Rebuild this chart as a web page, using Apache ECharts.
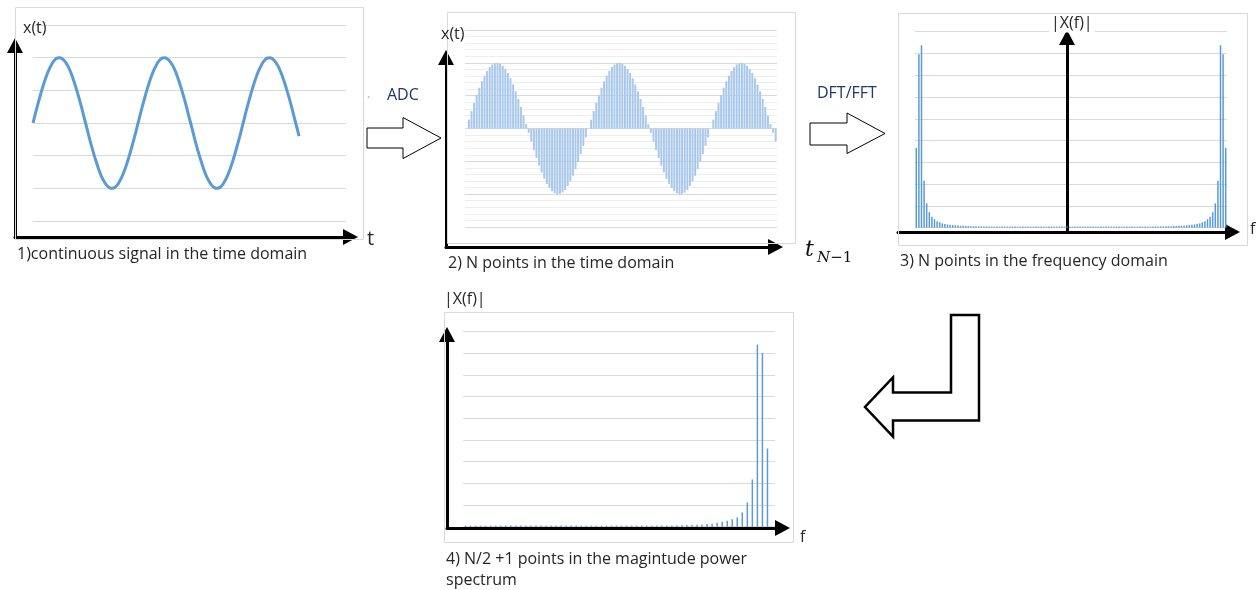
<!DOCTYPE html>
<html><head><meta charset="utf-8">
<script src="https://cdn.jsdelivr.net/npm/echarts@6/dist/echarts.min.js"></script>
<style>html,body{margin:0;padding:0;background:#fff}#c{width:1258px;height:590px}</style>
</head><body><div id="c"></div>
<script>
const signalSamples = [
  0, 0.27, 0.53, 0.78, 1.02, 1.24, 1.44, 1.61, 1.75, 1.87, 1.95, 1.99, 2.00, 1.97, 1.91, 1.81, 1.69, 1.53, 1.34, 1.13,
  0.90, 0.66, 0.40, 0.13, -0.13, -0.40, -0.66, -0.90, -1.13, -1.34, -1.53, -1.69, -1.81, -1.91, -1.97, -2.00, -1.99, -1.95, -1.87, -1.75,
  -1.61, -1.44, -1.24, -1.02, -0.78, -0.53, -0.27,
  0, 0.27, 0.53, 0.78, 1.02, 1.24, 1.44, 1.61, 1.75, 1.87, 1.95, 1.99, 2.00, 1.97, 1.91, 1.81, 1.69, 1.53, 1.34, 1.13,
  0.90, 0.66, 0.40, 0.13, -0.13, -0.40, -0.66, -0.90, -1.13, -1.34, -1.53, -1.69, -1.81, -1.91, -1.97, -2.00, -1.99, -1.95, -1.87, -1.75,
  -1.61, -1.44, -1.24, -1.02, -0.78, -0.53, -0.27,
  0, 0.27, 0.53, 0.78, 1.02, 1.24, 1.44, 1.61, 1.75, 1.87, 1.95, 1.99, 2.00, 1.97, 1.91, 1.81, 1.69, 1.53, 1.34, 1.13,
  0.90, 0.66, 0.40, 0.13, -0.13, -0.40
];
// |X(k)|: N = 120 frequency bins (panel 3)
const spectrumFull = [
  3.67, 7.97, 8.38, 2.16, 1.12, 0.71, 0.50, 0.39, 0.30, 0.25,
  0.20, 0.17, 0.15, 0.13, 0.12, 0.11, 0.10, 0.09, 0.09, 0.08,
  0.08, 0.07, 0.07, 0.07, 0.06, 0.06, 0.06, 0.06, 0.06, 0.05,
  0.05, 0.05, 0.05, 0.05, 0.05, 0.05, 0.05, 0.05, 0.05, 0.05,
  0.05, 0.05, 0.05, 0.05, 0.05, 0.05, 0.05, 0.05, 0.05, 0.05,
  0.05, 0.05, 0.05, 0.05, 0.05, 0.05, 0.05, 0.05, 0.05, 0.05,
  0.05, 0.05, 0.05, 0.05, 0.05, 0.05, 0.05, 0.05, 0.05, 0.05,
  0.05, 0.05, 0.05, 0.05, 0.05, 0.05, 0.05, 0.05, 0.05, 0.05,
  0.05, 0.05, 0.05, 0.05, 0.05, 0.05, 0.05, 0.05, 0.05, 0.05,
  0.05, 0.06, 0.06, 0.06, 0.06, 0.06, 0.07, 0.07, 0.07, 0.08,
  0.08, 0.09, 0.09, 0.10, 0.11, 0.12, 0.13, 0.15, 0.17, 0.20,
  0.25, 0.30, 0.39, 0.50, 0.71, 1.12, 2.16, 8.38, 7.97, 3.67
];
// N/2 + 1 = 61 points of the magnitude spectrum (panel 4)
const spectrumHalf = [
  0.05, 0.05, 0.05, 0.05, 0.05, 0.05, 0.05, 0.05, 0.05, 0.05,
  0.05, 0.05, 0.05, 0.05, 0.05, 0.05, 0.05, 0.05, 0.05, 0.05,
  0.05, 0.05, 0.05, 0.05, 0.05, 0.05, 0.05, 0.05, 0.05, 0.05,
  0.05, 0.05, 0.05, 0.05, 0.05, 0.05, 0.05, 0.05, 0.05, 0.05,
  0.05, 0.05, 0.05, 0.07, 0.08, 0.08, 0.09, 0.10, 0.12, 0.14,
  0.18, 0.23, 0.28, 0.34, 0.43, 0.66, 1.12, 2.18, 8.40, 8.02,
  3.61
];
const timeTicks = [-3, -2, -1, 0, 1, 2, 3];
const sampleIndex = signalSamples.map((v, i) => i);
const binIndex = spectrumFull.map((v, i) => i);
const halfIndex = Array.from({ length: 62 }, (v, i) => i);

const GRIDC = '#d9d9d9';
const FONT = '"Open Sans", "Noto Sans", sans-serif';

function dataX(gi, extra) {
  return Object.assign({ gridIndex: gi, axisLine: { show: false }, axisTick: { show: false },
    axisLabel: { show: false }, splitLine: { show: false } }, extra);
}
function dataY(gi, extra) {
  return Object.assign({ gridIndex: gi, type: 'value', axisLine: { show: false }, axisTick: { show: false },
    axisLabel: { show: false }, splitLine: { show: true, lineStyle: { color: GRIDC, width: 1 } } }, extra);
}
function arrowAxis(gi, extra) {
  return Object.assign({ gridIndex: gi, type: 'value', min: 0, max: 1,
    axisLine: { show: true, onZero: false, symbol: ['none', 'triangle'], symbolSize: [16, 15],
      lineStyle: { color: '#000', width: 3 } },
    axisTick: { show: false }, axisLabel: { show: false }, splitLine: { show: false } }, extra);
}
function label(text, x, y, opts) {
  return Object.assign({ type: 'text', x: x, y: y, z: 20,
    style: Object.assign({ text: text, fill: '#262626', font: '16px ' + FONT, align: 'left', verticalAlign: 'middle' }, opts || {}) });
}
function box(x, y, w, h) {
  return { type: 'rect', z: 1, shape: { x: x + 0.5, y: y + 0.5, width: w, height: h },
    style: { fill: 'none', stroke: GRIDC, lineWidth: 1 } };
}
function blockArrow(points, lw) {
  return { type: 'polygon', z: 20, shape: { points: points },
    style: { fill: '#fff', stroke: '#000', lineWidth: lw, lineJoin: 'miter' } };
}

const chart = echarts.init(document.getElementById('c'), null, { renderer: 'canvas' });
chart.setOption({
  animation: false,
  backgroundColor: '#fff',
  grid: [
    { left: 33, top: 25, width: 313, height: 196 },
    { left: 15, top: 45.5, width: 335.5, height: 191.5 },
    { left: 465, top: 30, width: 312, height: 197 },
    { left: 446, top: 57.5, width: 329.5, height: 189.5 },
    { left: 915, top: 31.7, width: 312, height: 196 },
    { left: 898, top: 37.5, width: 334.5, height: 194.5 },
    { left: 463, top: 331.7, width: 312, height: 195 },
    { left: 447, top: 334.5, width: 335.5, height: 193.5 }
  ],
  xAxis: [
    dataX(0, { type: 'value', min: 0, max: 140 }),
    arrowAxis(1),
    dataX(2, { type: 'category', data: sampleIndex, boundaryGap: true }),
    arrowAxis(3),
    dataX(4, { type: 'category', data: binIndex, boundaryGap: true }),
    arrowAxis(5),
    dataX(6, { type: 'category', data: halfIndex, boundaryGap: true }),
    arrowAxis(7)
  ],
  yAxis: [
    dataY(0, { min: timeTicks[0], max: timeTicks[timeTicks.length - 1], interval: 1 }),
    arrowAxis(1),
    dataY(2, { min: timeTicks[0], max: timeTicks[timeTicks.length - 1], interval: 1,
      minorTick: { show: false, splitNumber: 5 },
      minorSplitLine: { show: true, lineStyle: { color: '#eeeeee', width: 1 } } }),
    arrowAxis(3),
    dataY(4, { min: 0, max: 9, interval: 1 }),
    arrowAxis(5, { offset: -169 }),
    dataY(6, { min: 0, max: 9, interval: 1 }),
    arrowAxis(7)
  ],
  series: [
    { type: 'line', xAxisIndex: 0, yAxisIndex: 0, data: signalSamples.map((v, i) => [i, v]),
      smooth: true, showSymbol: false, silent: true, lineStyle: { color: '#5b9bd5', width: 3 } },
    { type: 'bar', xAxisIndex: 2, yAxisIndex: 2, data: signalSamples, barWidth: 2, silent: true,
      itemStyle: { color: '#a9c8eb' } },
    { type: 'bar', xAxisIndex: 4, yAxisIndex: 4, data: spectrumFull, barWidth: 1.5, silent: true,
      itemStyle: { color: '#5b9bd5' } },
    { type: 'bar', xAxisIndex: 6, yAxisIndex: 6, data: spectrumHalf, barWidth: 1.5, silent: true,
      itemStyle: { color: '#5b9bd5' } }
  ],
  graphic: [
    box(15, 7, 348, 232),
    box(447, 12, 348, 231),
    box(898, 13, 349, 232),
    box(444, 312, 349, 230),
    blockArrow([[367, 128], [403, 128], [403, 117.5], [441, 138], [403, 158.5], [403, 148], [367, 148]], 1),
    blockArrow([[810, 123], [847, 123], [847, 113], [885, 133.5], [847, 153.5], [847, 145], [810, 145]], 1),
    blockArrow([[951, 315], [979, 315], [979, 420.5], [893, 420.5], [893, 436.5], [865, 407], [893, 377.5], [893, 392.5], [951, 392.5]], 2.5),
    { type: 'circle', z: 20, shape: { cx: 368.5, cy: 97, r: 1 }, style: { fill: '#f4b183' } },
    label('ADC', 387, 95, { fill: '#1f3864' }),
    label('DFT/FFT', 817, 93, { fill: '#1f3864' }),
    label('x(t)', 23, 28.5),
    label('x(t)', 441, 34),
    label('|X(f)|', 1049, 23.5, { backgroundColor: '#fff', padding: [1, 2] }),
    label('|X(f)|', 444, 299.5),
    label('t', 367, 239.5, { font: '20px ' + FONT }),
    label('f', 1250, 229),
    label('f', 800, 537),
    label('t', 805, 250.5, { font: 'italic 22px "DejaVu Serif", serif', fill: '#111' }),
    label('{n|N}{m|\u22121}', 817, 258, { fill: '#111', rich: {
      n: { fontFamily: '"DejaVu Serif", serif', fontStyle: 'italic', fontSize: 15, fill: '#111' },
      m: { fontFamily: '"DejaVu Serif", serif', fontSize: 15, fill: '#111' } } }),
    label('1)continuous signal in the time domain', 17, 254),
    label('2) N points in the time domain', 448, 263),
    label('3) N points in the frequency domain', 900, 261.5),
    label('4) N/2 +1 points in the magintude power', 446, 559),
    label('spectrum', 446, 580)
  ]
});
</script></body></html>
